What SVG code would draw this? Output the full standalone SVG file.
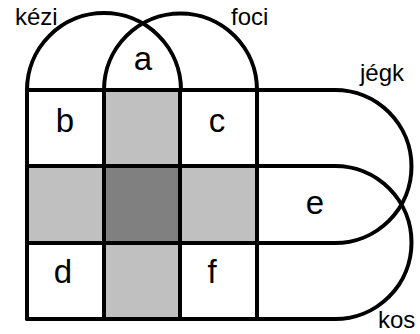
<svg xmlns="http://www.w3.org/2000/svg" width="420" height="334" viewBox="0 0 420 334">
<style>
.ln{fill:none;stroke:#000;stroke-width:4;stroke-linecap:round;stroke-linejoin:round}
.lt{fill:#c0c0c0}
.dk{fill:#808080}
.lab{font-family:"Liberation Sans",Arial,sans-serif;font-size:33px;fill:#000;text-anchor:middle}
.set{font-family:"Liberation Sans",Arial,sans-serif;font-size:24px;fill:#000}
</style>
<rect width="420" height="334" fill="#fff"/>
<g id="fills">
<rect class="lt" x="104" y="90" width="76" height="76"/>
<rect class="lt" x="27" y="166" width="77" height="77"/>
<rect class="dk" x="104" y="166" width="76" height="77"/>
<rect class="lt" x="180" y="166" width="77" height="77"/>
<rect class="lt" x="104" y="243" width="76" height="76"/>
</g>
<g id="connectors">
<path class="ln" d="M27 90 A77 77 0 0 1 181 90"/>
<path class="ln" d="M104 90 A76.5 76.5 0 0 1 257 90"/>
<path class="ln" d="M27 90 H335 A76.5 76.5 0 0 1 335 243 H27"/>
<path class="ln" d="M27 166 H335 A76.5 76.5 0 0 1 335 319 H27"/>
<path class="ln" d="M27 90 V319 M104 90 V319 M180 90 V319 M257 90 V319"/>
</g>
<g id="kezi"><text class="set" x="15" y="25">kézi</text></g>
<g id="foci"><text class="set" x="231" y="25">foci</text></g>
<g id="jegk"><text class="set" x="360" y="81">jégk</text></g>
<g id="kos"><text class="set" x="378" y="328">kos</text></g>
<g id="a"><text class="lab" x="143" y="70">a</text></g>
<g id="b"><text class="lab" x="65" y="132">b</text></g>
<g id="c"><text class="lab" x="217" y="132">c</text></g>
<g id="e"><text class="lab" x="315" y="214">e</text></g>
<g id="d"><text class="lab" x="63" y="283">d</text></g>
<g id="f"><text class="lab" x="212" y="283">f</text></g>
</svg>
